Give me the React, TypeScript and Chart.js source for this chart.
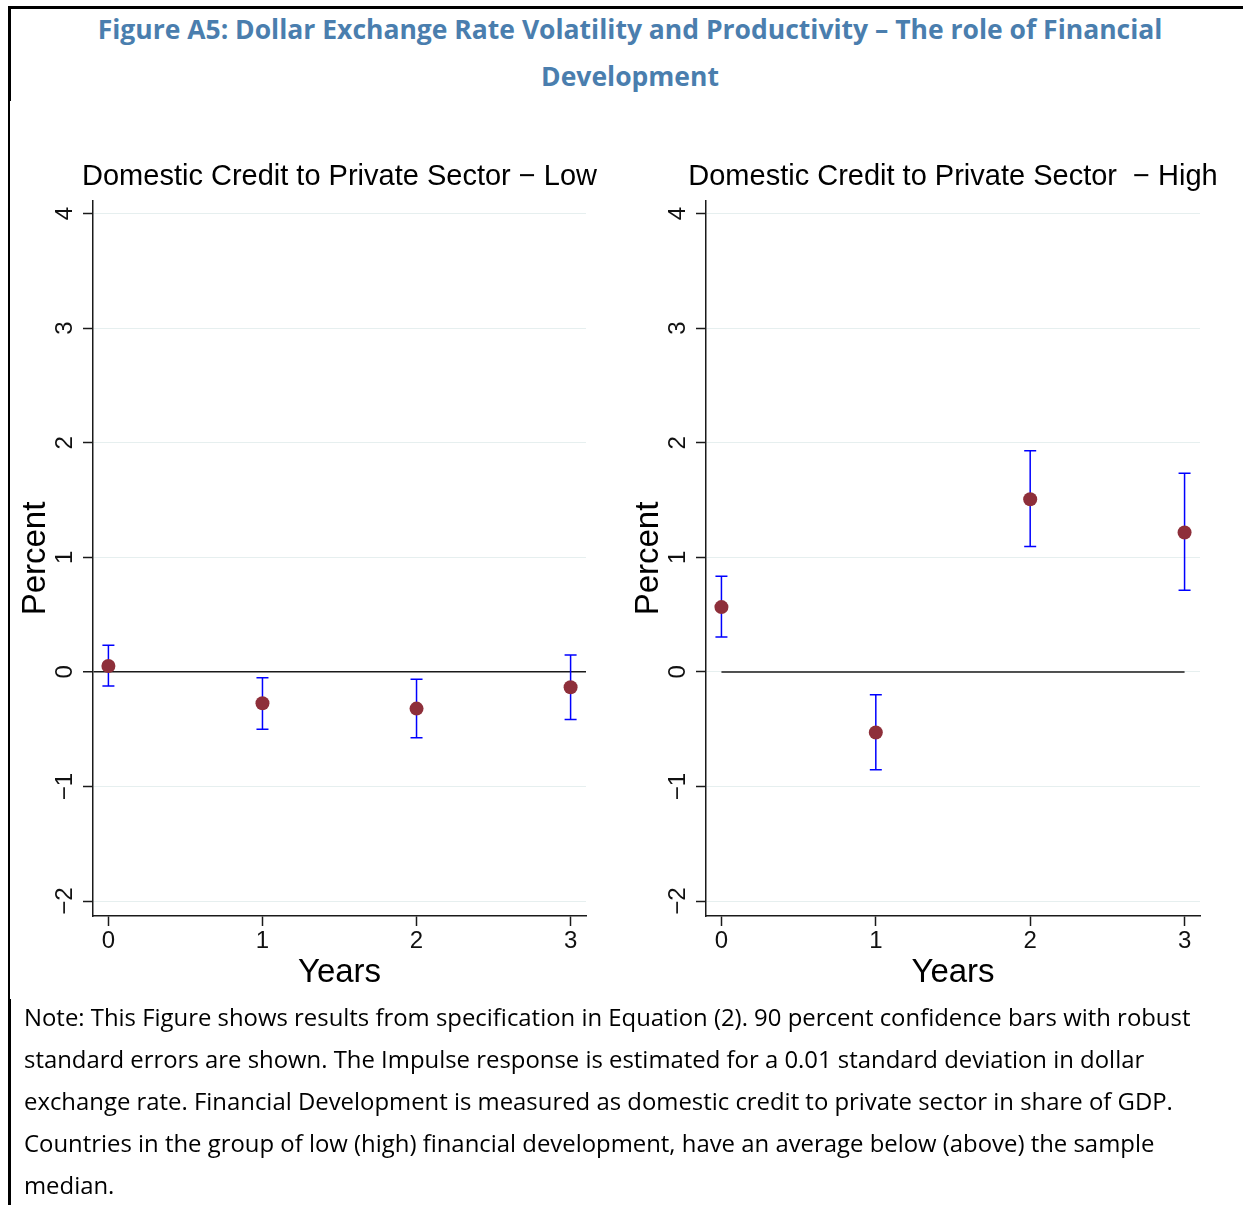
import React, { useEffect, useRef } from "react";
import { Chart, registerables } from "chart.js";

Chart.register(...registerables);

// ---- data ----
const years = [0, 1, 2, 3];
const lowEstimate = [0.052, -0.273, -0.32, -0.134];
const lowUpper = [0.233, -0.05, -0.064, 0.148];
const lowLower = [-0.122, -0.501, -0.574, -0.415];
const highEstimate = [0.566, -0.528, 1.507, 1.217];
const highUpper = [0.835, -0.199, 1.93, 1.733];
const highLower = [0.305, -0.853, 1.094, 0.712];
const yTicks = [-2, -1, 0, 1, 2, 3, 4];
const xTicks = [0, 1, 2, 3];
const lowTitle = "Domestic Credit to Private Sector \u2212 Low";
const highTitle = "Domestic Credit to Private Sector  \u2212 High";
const yTitle = "Percent";
const xTitle = "Years";
const figureTitle1 = "Figure A5: Dollar Exchange Rate Volatility and Productivity \u2013 The role of Financial";
const figureTitle2 = "Development";
const noteLines = [
  "Note: This Figure shows results from specification in Equation (2). 90 percent confidence bars with robust",
  "standard errors are shown. The Impulse response is estimated for a 0.01 standard deviation in dollar",
  "exchange rate. Financial Development is measured as domestic credit to private sector in share of GDP.",
  "Countries in the group of low (high) financial development, have an average below (above) the sample",
  "median.",
];

const FONT = '"Liberation Sans", Arial, sans-serif';
const AXIS = "#1a1a1a";

type PanelProps = {
  est: number[];
  up: number[];
  lo: number[];
  title: string;
  fullZero: boolean;
  left: number;
  width: number;
  yWidth: number;
  rightPad: number;
};

function fmt(v: number) {
  return v < 0 ? "\u2212" + String(-v) : String(v);
}

function Panel(p: PanelProps) {
  const ref = useRef<HTMLCanvasElement | null>(null);
  useEffect(() => {
    if (!ref.current) return;
    const pointsIndex = p.fullZero ? 0 : 1;
    const errorBars = {
      id: "errorBars",
      beforeDatasetDraw(chart: any, args: any) {
        if (args.index !== pointsIndex) return;
        const { ctx, scales } = chart;
        const x = scales.x, y = scales.y;
        ctx.save();
        ctx.strokeStyle = "#0000ff";
        ctx.lineWidth = 1.5;
        years.forEach((yr, i) => {
          const px = x.getPixelForValue(yr);
          const t = y.getPixelForValue(p.up[i]);
          const b = y.getPixelForValue(p.lo[i]);
          ctx.beginPath();
          ctx.moveTo(px, t);
          ctx.lineTo(px, b);
          ctx.moveTo(px - 6, t);
          ctx.lineTo(px + 6, t);
          ctx.moveTo(px - 6, b);
          ctx.lineTo(px + 6, b);
          ctx.stroke();
        });
        ctx.restore();
      },
    };
    const texts = {
      id: "texts",
      afterDraw(chart: any) {
        const { ctx, chartArea, scales } = chart;
        const x = scales.x, y = scales.y;
        const cx = (chartArea.left + chartArea.right) / 2;
        const cy = (chartArea.top + chartArea.bottom) / 2;
        ctx.save();
        ctx.fillStyle = "#000";
        ctx.textAlign = "center";
        ctx.textBaseline = "alphabetic";
        ctx.font = `29px ${FONT}`;
        ctx.fillText(p.title, cx, chartArea.top - 16);
        ctx.font = `33px ${FONT}`;
        ctx.fillText(xTitle, cx, chartArea.bottom + 66);
        ctx.save();
        ctx.translate(chartArea.left - 48, cy);
        ctx.rotate(-Math.PI / 2);
        ctx.fillText(yTitle, 0, 0);
        ctx.restore();
        ctx.font = `24px ${FONT}`;
        ctx.fillStyle = "#111";
        xTicks.forEach((v) => {
          ctx.fillText(fmt(v), x.getPixelForValue(v), chartArea.bottom + 32);
        });
        yTicks.forEach((v) => {
          ctx.save();
          ctx.translate(chartArea.left - 21, y.getPixelForValue(v));
          ctx.rotate(-Math.PI / 2);
          ctx.fillText(fmt(v), 0, 0);
          ctx.restore();
        });
        ctx.restore();
      },
    };
    const datasets: any[] = [];
    if (!p.fullZero) {
      datasets.push({
        type: "line",
        data: [
          { x: years[0], y: 0 },
          { x: years[years.length - 1], y: 0 },
        ],
        borderColor: AXIS,
        borderWidth: 1.5,
        pointRadius: 0,
        fill: false,
      });
    }
    datasets.push({
      type: "scatter",
      data: years.map((yr, i) => ({ x: yr, y: p.est[i] })),
      backgroundColor: "#8e2f3a",
      borderWidth: 0,
      pointRadius: 7,
      pointHoverRadius: 7,
    });
    const chart = new Chart(ref.current, {
      type: "scatter",
      data: { datasets },
      options: {
        animation: false,
        responsive: false,
        maintainAspectRatio: false,
        events: [],
        layout: { padding: { top: 61, right: p.rightPad, left: 0, bottom: 0 } },
        plugins: {
          legend: { display: false },
          tooltip: { enabled: false },
          title: { display: false },
        },
        scales: {
          x: {
            type: "linear",
            min: -0.1,
            max: 3.1,
            afterBuildTicks: (s: any) => {
              s.ticks = xTicks.map((v) => ({ value: v }));
            },
            afterFit: (s: any) => {
              s.height = 84;
            },
            grid: {
              display: true,
              drawOnChartArea: false,
              drawTicks: true,
              tickLength: 10,
              tickColor: AXIS,
              tickWidth: 1.5,
            },
            border: { display: true, color: AXIS, width: 1.5 },
            ticks: { display: false },
          },
          y: {
            type: "linear",
            min: -2.13,
            max: 4.11,
            afterBuildTicks: (s: any) => {
              s.ticks = yTicks.map((v) => ({ value: v }));
            },
            afterFit: (s: any) => {
              s.width = p.yWidth;
            },
            grid: {
              display: true,
              drawOnChartArea: true,
              drawTicks: true,
              tickLength: 10,
              tickColor: AXIS,
              tickWidth: 1.5,
              color: (c: any) => (p.fullZero && c.tick && c.tick.value === 0 ? AXIS : "#e6efef"),
              lineWidth: (c: any) => (p.fullZero && c.tick && c.tick.value === 0 ? 1.5 : 1),
            },
            border: { display: true, color: AXIS, width: 1.5 },
            ticks: { display: false },
          },
        },
      } as any,
      plugins: [errorBars, texts],
    } as any);
    return () => chart.destroy();
  }, []);
  return (
    <canvas
      ref={ref}
      width={p.width}
      height={860}
      style={{ position: "absolute", left: p.left, top: 140, width: p.width, height: 860 }}
    />
  );
}

export default function App() {
  return (
    <div
      style={{
        position: "absolute",
        left: 0,
        top: 0,
        width: 1243,
        height: 1205,
        overflow: "hidden",
        background: "#fff",
      }}
    >
      {/* frame lines */}
      <div style={{ position: "absolute", left: 8, top: 6, width: 1235, height: 3, background: "#000" }} />
      <div style={{ position: "absolute", left: 8, top: 6, width: 3, height: 95, background: "#000" }} />
      <div style={{ position: "absolute", left: 8, top: 101, width: 2, height: 898, background: "#000" }} />
      <div style={{ position: "absolute", left: 8, top: 999, width: 3, height: 206, background: "#000" }} />
      <div
        style={{
          position: "absolute",
          left: 0,
          top: 6,
          width: 1260,
          textAlign: "center",
          fontFamily: '"Open Sans", "Noto Sans", sans-serif',
          fontWeight: 700,
          fontSize: 26.5,
          lineHeight: "47px",
          color: "#4a7eae",
          whiteSpace: "nowrap",
        }}
      >
        <div>{figureTitle1}</div>
        <div>{figureTitle2}</div>
      </div>
      <Panel est={lowEstimate} up={lowUpper} lo={lowLower} title={lowTitle} fullZero={true} left={10} width={590} yWidth={83} rightPad={14} />
      <Panel est={highEstimate} up={highUpper} lo={highLower} title={highTitle} fullZero={false} left={620} width={623} yWidth={86} rightPad={43} />
      <div
        style={{
          position: "absolute",
          left: 24,
          top: 996,
          fontFamily: '"Open Sans", "Noto Sans", sans-serif',
          fontSize: 23.9,
          lineHeight: "42px",
          color: "#000",
          whiteSpace: "nowrap",
        }}
      >
        {noteLines.map((l, i) => (
          <div key={i}>{l}</div>
        ))}
      </div>
    </div>
  );
}
